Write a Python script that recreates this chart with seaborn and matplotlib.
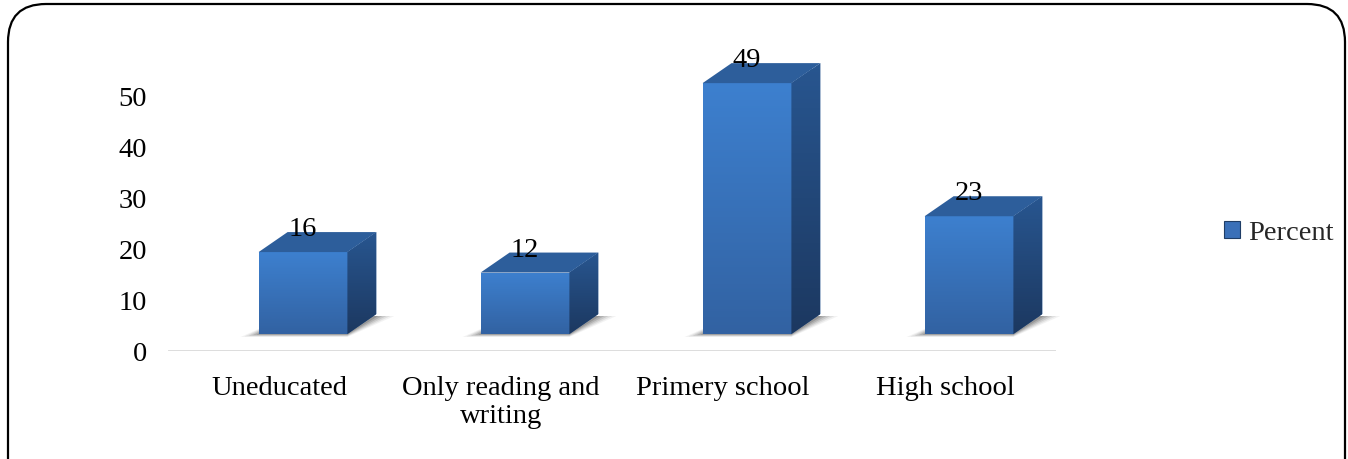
import numpy as np
import pandas as pd
import seaborn as sns
import matplotlib
matplotlib.use("Agg")
import matplotlib.pyplot as plt
from matplotlib.transforms import ScaledTranslation, IdentityTransform
from matplotlib.patches import Polygon, FancyBboxPatch, Patch
import matplotlib.colors as mcolors

# ---------------- data ----------------
categories = ["Uneducated", "Only reading and\nwriting", "Primery school", "High school"]
percent = [16, 12, 49, 23]
yticks = [0, 10, 20, 30, 40, 50]
series_name = "Percent"

# ---------------- style ----------------
sns.set_theme(style="white")
plt.rcParams["font.family"] = ["Liberation Serif", "DejaVu Serif"]
FS = 20.5

FRONT_TOP = "#3d80cf"
FRONT_BOT = "#3262a2"
TOP_FACE = "#2d5e9b"
SIDE_TOP = "#285690"
SIDE_BOT = "#1c3860"

W, H, DPI = 1348, 460, 100
fig = plt.figure(figsize=(W / DPI, H / DPI), dpi=DPI)
fig.patch.set_facecolor("white")

PX_PER_UNIT = 5.12
YMAX = 55
ax = fig.add_axes([168 / W, 108 / H, 888 / W, PX_PER_UNIT * YMAX / H])

df = pd.DataFrame({"category": categories, "value": percent})
sns.barplot(data=df, x="category", y="value", width=0.4, color=FRONT_TOP,
            saturation=1, ax=ax, zorder=3)
ax.set_xlim(-0.5, len(categories) - 0.5)
ax.set_ylim(0, YMAX)
ax.set_yticks(yticks)
ax.set_xlabel("")
ax.set_ylabel("")
for s in ax.spines.values():
    s.set_visible(False)
ax.tick_params(axis="y", length=0, pad=15, labelsize=FS, labelcolor="black")
ax.tick_params(axis="x", length=0, pad=17, labelsize=FS, labelcolor="black")
for t in ax.get_xticklabels():
    t.set_linespacing(1.17)
ax.axhline(0, color="#d9d9d9", lw=2, zorder=1)

# 3D offsets (pixels)
FRONT_DX, FRONT_DY = 24, 17   # front face shifted from the floor baseline
DEPTH_DX, DEPTH_DY = 29, 20   # depth of the box

front_off = ScaledTranslation(FRONT_DX / DPI, FRONT_DY / DPI, fig.dpi_scale_trans)
ident = IdentityTransform()


def grad_image(c1, c2, n=256):
    a = np.array(mcolors.to_rgb(c1))
    b = np.array(mcolors.to_rgb(c2))
    t = np.linspace(0, 1, n)[:, None]
    return (a * (1 - t) + b * t)[:, None, :]


for p in list(ax.patches):
    p.set_transform(ax.transData + front_off)
    p.set_clip_on(False)
    p.set_edgecolor("none")
    x0, y0 = p.get_x(), p.get_y()
    w, h = p.get_width(), p.get_height()
    (fx0, fy0) = (ax.transData + front_off).transform((x0, y0))
    (fx1, fy1) = (ax.transData + front_off).transform((x0 + w, y0 + h))

    # soft shadow on the floor
    for k, a in enumerate([0.06, 0.09, 0.12, 0.16, 0.2]):
        g = 18 - 4 * k
        shadow = Polygon([(fx0 - g, fy0 - 3 + k * 0.6), (fx1, fy0 - 3 + k * 0.6),
                          (fx1 + DEPTH_DX + g, fy0 + DEPTH_DY - 2),
                          (fx0 + DEPTH_DX, fy0 + DEPTH_DY - 2)],
                         closed=True, transform=ident, facecolor="#303030",
                         edgecolor="none", alpha=a, zorder=2, clip_on=False)
        ax.add_patch(shadow)

    # front gradient
    im = ax.imshow(grad_image(FRONT_TOP, FRONT_BOT), aspect="auto",
                   extent=(fx0, fx1, fy0, fy1), origin="upper",
                   transform=ident, zorder=3.5, interpolation="bilinear")
    im.set_clip_path(p)

    # side face
    side = Polygon([(fx1, fy0), (fx1, fy1), (fx1 + DEPTH_DX, fy1 + DEPTH_DY),
                    (fx1 + DEPTH_DX, fy0 + DEPTH_DY)], closed=True,
                   transform=ident, facecolor=SIDE_TOP, edgecolor="none",
                   zorder=3, clip_on=False)
    ax.add_patch(side)
    im2 = ax.imshow(grad_image(SIDE_TOP, SIDE_BOT), aspect="auto",
                    extent=(fx1, fx1 + DEPTH_DX, fy0, fy1 + DEPTH_DY),
                    origin="upper", transform=ident, zorder=3.5,
                    interpolation="bilinear")
    im2.set_clip_path(side)

    # top face
    top = Polygon([(fx0, fy1), (fx1, fy1), (fx1 + DEPTH_DX, fy1 + DEPTH_DY),
                   (fx0 + DEPTH_DX, fy1 + DEPTH_DY)], closed=True,
                  transform=ident, facecolor=TOP_FACE, edgecolor="none",
                  zorder=3.6, clip_on=False)
    ax.add_patch(top)

    # data label
    ax.annotate(f"{h:g}", xy=(x0 + w / 2, h), xycoords="data",
                xytext=(FRONT_DX * 0.72, (FRONT_DY + DEPTH_DY - 3) * 0.72),
                textcoords="offset points", ha="center", va="baseline",
                fontsize=FS, color="black", zorder=5, annotation_clip=False)

ax.set_xlim(-0.5, len(categories) - 0.5)
ax.set_ylim(0, YMAX)

# legend
handle = Patch(facecolor="#3a70b8", edgecolor="#1f3d66", linewidth=0.8)
fig.legend(handles=[handle], labels=[series_name], loc="center left",
           bbox_to_anchor=(1224 / W, 226 / H), frameon=False, fontsize=FS,
           handlelength=0.56, handleheight=0.56, handletextpad=0.3,
           borderpad=0, borderaxespad=0)

# rounded outer frame
frame = FancyBboxPatch((8, -40), 1337, 495,
                       boxstyle="round,pad=0,rounding_size=38",
                       transform=ident, fill=False, edgecolor="black", lw=1.6)
fig.add_artist(frame)

fig.savefig("out.png", dpi=DPI)
